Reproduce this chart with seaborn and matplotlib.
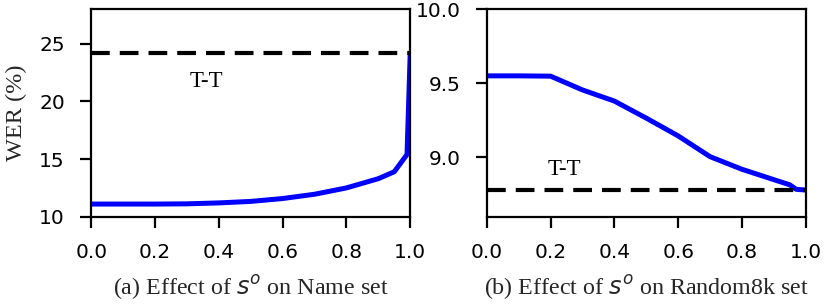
import pandas as pd
import matplotlib.pyplot as plt
import seaborn as sns

sns.set_style("ticks", {"axes.edgecolor": "black", "text.color": "black",
                        "xtick.color": "black", "ytick.color": "black"})
plt.rcParams["font.family"] = ["DejaVu Sans"]
plt.rcParams["mathtext.fontset"] = "dejavusans"

# Name set
so_name = [0.0, 0.1, 0.2, 0.3, 0.4, 0.5, 0.6, 0.7, 0.8, 0.9, 0.95, 0.99, 1.0]
wer_name = [11.1, 11.1, 11.1, 11.12, 11.2, 11.33, 11.58, 11.95, 12.5, 13.3, 13.9, 15.4, 24.2]
tt_name = 24.2

# Random8k set
so_rand = [0.0, 0.1, 0.2, 0.3, 0.4, 0.5, 0.6, 0.7, 0.8, 0.9, 0.95, 0.97, 1.0]
wer_rand = [9.55, 9.55, 9.548, 9.455, 9.38, 9.265, 9.145, 9.005, 8.92, 8.85, 8.815, 8.785, 8.78]
tt_rand = 8.78

df_name = pd.DataFrame({"so": so_name, "wer": wer_name})
df_rand = pd.DataFrame({"so": so_rand, "wer": wer_rand})

fig, axes = plt.subplots(1, 2, figsize=(8.29, 3.04), dpi=100)
fig.subplots_adjust(left=0.11, right=0.972, top=0.97, bottom=0.287, wspace=0.24)

panels = [
    (axes[0], df_name, tt_name, (10, 28), [10, 15, 20, 25], (0.36, 21.7),
     "(a) Effect of $s^o$ on Name set"),
    (axes[1], df_rand, tt_rand, (8.6, 10.0), [9.0, 9.5, 10.0], (0.245, 8.92),
     "(b) Effect of $s^o$ on Random8k set"),
]

for ax, df, tt, ylim, yticks, txt_pos, xlabel in panels:
    sns.lineplot(data=df, x="so", y="wer", ax=ax, color="#0000ff", linewidth=3.6)
    ax.axhline(tt, color="black", linestyle=(0, (4.5, 2.4)), linewidth=3)
    ax.text(txt_pos[0], txt_pos[1], "T-T", ha="center", va="center",
            fontsize=16.5, family="Liberation Serif")
    ax.set_xlim(0, 1)
    ax.set_ylim(*ylim)
    ax.set_yticks(yticks)
    ax.set_xticks([0.0, 0.2, 0.4, 0.6, 0.8, 1.0])
    ax.set_xlabel(xlabel, fontsize=17.3, family="Liberation Serif", labelpad=8)
    ax.set_ylabel("")
    ax.tick_params(labelsize=14.5, length=8, width=1.6, direction="out", pad=11)
    for sp in ax.spines.values():
        sp.set_linewidth(1.6)
        sp.set_visible(True)

axes[1].set_yticklabels(["9.0", "9.5", "10.0"])
axes[0].set_ylabel("WER (%)", fontsize=17.5, family="Liberation Serif", labelpad=8.5)

fig.savefig("out.png", dpi=100)
